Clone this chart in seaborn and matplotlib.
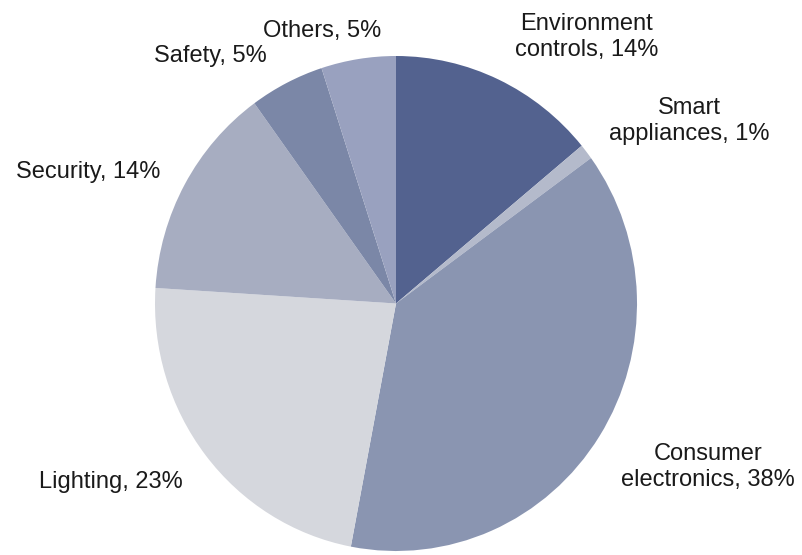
import matplotlib
matplotlib.use("Agg")
import matplotlib.pyplot as plt
import seaborn as sns

# Smart home market split by segment (share of total, %)
segments = ["Environment\ncontrols", "Smart\nappliances", "Consumer\nelectronics",
            "Lighting", "Security", "Safety", "Others"]
shares = [14, 1, 38, 23, 14, 5, 5]
colors = ["#53628f", "#b4bacb", "#8a95b1", "#d5d7dd", "#a7adc1", "#7b87a7", "#99a1bf"]

# label anchor points (figure pixels, origin top-left)
label_px = [(587, 37), (689, 121), (708, 467), (111, 482), (88, 172), (210, 56), (322, 31)]

sns.set_theme(style="white")
plt.rcParams["font.family"] = ["Liberation Sans", "DejaVu Sans"]

W, H = 802, 555
fig = plt.figure(figsize=(W / 100, H / 100), dpi=100)
fig.patch.set_facecolor("white")

# pie occupies x 155..637, y 56..551 in pixels
left, right, top, bottom = 155, 637, 56, 551
ax = fig.add_axes([left / W, (H - bottom) / H, (right - left) / W, (bottom - top) / H])

palette = sns.color_palette(colors)
ax.pie(shares, colors=palette, startangle=90, counterclock=False,
       wedgeprops=dict(linewidth=0))
ax.set_aspect("auto")
ax.set_xlim(-1, 1)
ax.set_ylim(-1, 1)
ax.axis("off")

for name, val, (px, py) in zip(segments, shares, label_px):
    fig.text(px / W, 1 - py / H, f"{name}, {val}%", ha="center", va="center",
             fontsize=17, color="#1a1a1a", linespacing=1.25)

fig.savefig("out.png", dpi=100)
